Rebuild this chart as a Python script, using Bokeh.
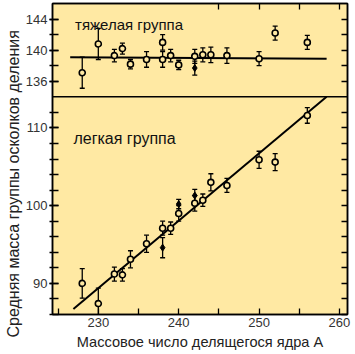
from bokeh.plotting import figure
from bokeh.models import (Range1d, LinearAxis, FixedTicker, Span, Whisker, TeeHead,
                          ColumnDataSource, Label)
from bokeh.embed import file_html
from bokeh.resources import INLINE

# ---------------- data ----------------
# heavy group (upper panel)
heavy_A = [228, 230, 232, 233, 234, 236, 238, 238, 239, 240, 242, 243, 244, 246, 250, 252, 256]
heavy_M = [137.1, 140.8, 139.3, 140.2, 138.2, 138.8, 141.0, 138.8, 139.3, 138.1, 139.2, 139.4, 139.4, 139.3, 138.9, 142.2, 141.0]
heavy_E = [2.0, 2.0, 0.8, 0.7, 0.6, 1.0, 1.0, 1.0, 0.8, 0.6, 0.9, 0.9, 1.0, 1.0, 0.9, 0.9, 0.9]
heavy2_A = [242]
heavy2_M = [137.7]
heavy2_E = [0.9]
heavy_fit_A = [226.5, 258.4]
heavy_fit_M = [139.1, 138.9]

# light group (lower panel)
light_A = [228, 230, 232, 233, 234, 236, 238, 239, 240, 242, 243, 244, 246, 250, 252, 256]
light_M = [90.0, 87.4, 91.2, 91.1, 93.1, 95.1, 97.1, 97.1, 99.0, 100.3, 100.7, 103.0, 102.6, 105.9, 105.6, 111.6]
light_E = [1.9, 2.0, 0.9, 0.8, 1.1, 1.1, 0.9, 0.8, 1.0, 1.0, 0.8, 1.1, 0.9, 1.1, 1.1, 1.0]
light2_A = [238, 240, 242]
light2_M = [94.6, 100.2, 101.3]
light2_E = [1.3, 0.6, 0.8]
light_fit_A = [226.9, 258.4]
light_fit_M = [86.7, 114.0]

x_ticks = [230, 240, 250, 260]
x_minor = [225, 235, 245, 255]
top_ticks = [245, 250, 255, 260]
light_ticks = [90, 100, 110]
heavy_ticks = [136, 140, 144]

x_title = "Массовое число делящегося ядра А"
y_title = "Средняя масса группы осколков деления"
heavy_title = "тяжелая группа"
light_title = "легкая группа"

# axis break: light panel 86..114, heavy panel 134..146
LIGHT_LO, LIGHT_HI = 86, 114
HEAVY_LO, HEAVY_HI = 134, 146
OFFSET = HEAVY_LO - LIGHT_HI  # 20

BG = "#FFE9A3"
FONT = "Liberation Sans"
X0, X1 = 224.3, 261.0

p = figure(width=355, height=354, output_backend="svg", toolbar_location=None,
           x_range=Range1d(X0, X1),
           y_range=Range1d(LIGHT_LO, HEAVY_HI - OFFSET),
           x_axis_location=None, y_axis_location=None,
           title=y_title, title_location="left",
           min_border_left=52, min_border_right=8, min_border_top=3, min_border_bottom=40)
p.extra_y_ranges = {"heavy": Range1d(LIGHT_LO + OFFSET, HEAVY_HI)}
p.background_fill_color = BG
p.border_fill_color = "white"
p.grid.visible = False
p.outline_line_color = "black"
p.outline_line_width = 1.5

# y title (drawn as the plot title on the left, shifted down like the original)
p.title.align = "left"
p.title.offset = -23
p.title.text_font = FONT
p.title.text_font_size = "16px"
p.title.text_font_style = "normal"
p.title.text_color = "#222222"
p.title.standoff = 2

# ---- axes ----
light_minor = list(range(LIGHT_LO, LIGHT_HI, 2))
heavy_minor = [t - OFFSET for t in range(HEAVY_LO + 2, HEAVY_HI, 2)]
y_major = light_ticks + [t - OFFSET for t in heavy_ticks]
yticker = FixedTicker(ticks=y_major, minor_ticks=light_minor + heavy_minor)

left = LinearAxis(ticker=yticker)
left.major_label_overrides = {t - OFFSET: str(t) for t in heavy_ticks}
right = LinearAxis(ticker=FixedTicker(ticks=[], minor_ticks=light_minor + heavy_minor))
bottom = LinearAxis(ticker=FixedTicker(ticks=x_ticks, minor_ticks=x_minor),
                    axis_label=x_title)
top = LinearAxis(ticker=FixedTicker(ticks=[], minor_ticks=top_ticks))

for ax in (left, right, bottom, top):
    ax.axis_line_color = "black"
    ax.axis_line_width = 1.5
    ax.major_tick_line_color = "black"
    ax.minor_tick_line_color = "black"
    ax.major_tick_line_width = 1.3
    ax.minor_tick_line_width = 1.3
    ax.major_tick_in = 6
    ax.minor_tick_in = 6
    ax.major_tick_out = 0
    ax.minor_tick_out = 0
    ax.major_label_text_font = FONT
    ax.major_label_text_font_size = "13px"
    ax.major_label_text_color = "#333333"
    ax.axis_label_text_font = FONT
    ax.axis_label_text_font_size = "14.6px"
    ax.axis_label_text_font_style = "normal"
    ax.axis_label_text_color = "#222222"

left.major_tick_out = 3
left.minor_tick_out = 3
left.major_label_standoff = 2
bottom.major_label_standoff = 3
bottom.axis_label_standoff = 4
right.major_label_standoff = 0
top.major_label_standoff = 0

p.add_layout(left, "left")
p.add_layout(right, "right")
p.add_layout(bottom, "below")
p.add_layout(top, "above")

# divider between the two panels
p.add_layout(Span(location=LIGHT_HI, dimension="width", line_color="black", line_width=1.5))

# ---- fit lines ----
p.line(heavy_fit_A, heavy_fit_M, y_range_name="heavy", line_color="black", line_width=2)
p.line(light_fit_A, light_fit_M, line_color="black", line_width=2)

def errbars(A, M, E, rng):
    src = ColumnDataSource(dict(x=A, y=M,
                                lo=[m - e for m, e in zip(M, E)],
                                hi=[m + e for m, e in zip(M, E)]))
    kw = {} if rng is None else {"y_range_name": rng}
    w = Whisker(source=src, base="x", upper="hi", lower="lo", dimension="height",
                line_color="black", line_width=1.3,
                upper_head=TeeHead(size=5, line_color="black", line_width=1.3),
                lower_head=TeeHead(size=5, line_color="black", line_width=1.3), **kw)
    p.add_layout(w)
    return src

s1 = errbars(heavy_A, heavy_M, heavy_E, "heavy")
s2 = errbars(heavy2_A, heavy2_M, heavy2_E, "heavy")
s3 = errbars(light_A, light_M, light_E, None)
s4 = errbars(light2_A, light2_M, light2_E, None)

p.scatter("x", "y", source=s1, y_range_name="heavy", marker="circle", size=6,
          fill_color=BG, line_color="black", line_width=1.6)
p.scatter("x", "y", source=s2, y_range_name="heavy", marker="diamond", size=7,
          fill_color="black", line_color="black", line_width=1)
p.scatter("x", "y", source=s3, marker="circle", size=6,
          fill_color=BG, line_color="black", line_width=1.6)
p.scatter("x", "y", source=s4, marker="diamond", size=7,
          fill_color="black", line_color="black", line_width=1)

# ---- panel titles ----
p.add_layout(Label(x=227.1, y=143.35, y_range_name="heavy", text=heavy_title,
                   text_font=FONT, text_font_size="15px", text_color="#111111",
                   text_baseline="middle"))
p.add_layout(Label(x=226.9, y=108.65, text=light_title,
                   text_font=FONT, text_font_size="16px", text_color="#111111",
                   text_baseline="middle"))

open("out.html", "w").write(file_html(p, INLINE))
